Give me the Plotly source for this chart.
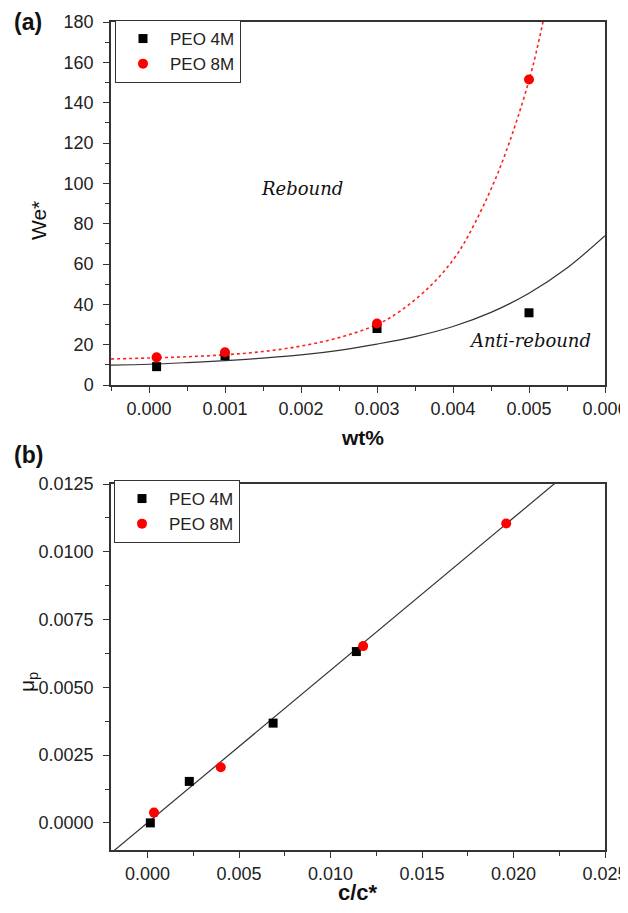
import plotly.graph_objects as go

# ---- Panel (a) data ----
wt_4m = [0.0001, 0.001, 0.003, 0.005]
we_4m = [9.1, 14.6, 28.0, 35.8]
wt_8m = [0.0001, 0.001, 0.003, 0.005]
we_8m = [13.7, 16.2, 30.5, 151.5]

# curves
fit4_x = [-0.0005, 0, 0.0005, 0.001, 0.0015, 0.002, 0.0025, 0.003, 0.0035, 0.004, 0.0045, 0.005, 0.0055, 0.006]
fit4_y = [9.9, 10.3, 11.1, 12.1, 13.3, 14.9, 17.2, 20.3, 24.0, 29.0, 36.0, 45.5, 58.0, 74.0]
fit8_x = [-0.0005, 0, 0.0005, 0.001, 0.0015, 0.002, 0.0025, 0.003, 0.0033, 0.0037, 0.004, 0.0042, 0.0046, 0.005, 0.0052]
fit8_y = [12.9, 13.4, 14.0, 15.0, 16.6, 19.3, 23.5, 30.0, 36.5, 49.0, 62.0, 74.0, 106.0, 151.0, 183.0]

# ---- Panel (b) data ----
cc_4m = [0.00015, 0.00228, 0.00686, 0.01141]
mu_4m = [0.0000, 0.00153, 0.00368, 0.00632]
cc_8m = [0.00035, 0.0040, 0.01178, 0.0196]
mu_8m = [0.00038, 0.00205, 0.00652, 0.01104]
line_x = [-0.0022, 0.0230]
line_y = [-0.00123, 0.01294]

FONT = "Liberation Sans, Arial, sans-serif"
AX = "#333333"

fig = go.Figure()

# Panel (a)
fig.add_trace(go.Scatter(x=fit4_x, y=fit4_y, mode="lines", line=dict(color="#333333", width=1.2, shape="spline"),
                         showlegend=False, xaxis="x", yaxis="y"))
fig.add_trace(go.Scatter(x=fit8_x, y=fit8_y, mode="lines", line=dict(color="#ff2020", width=1.6, dash="dot", shape="spline"),
                         showlegend=False, xaxis="x", yaxis="y"))
fig.add_trace(go.Scatter(x=wt_4m, y=we_4m, mode="markers", name="PEO 4M",
                         marker=dict(symbol="square", size=9, color="black"), xaxis="x", yaxis="y", legend="legend"))
fig.add_trace(go.Scatter(x=wt_8m, y=we_8m, mode="markers", name="PEO 8M",
                         marker=dict(symbol="circle", size=10, color="#ff0000"), xaxis="x", yaxis="y", legend="legend"))

# Panel (b)
fig.add_trace(go.Scatter(x=line_x, y=line_y, mode="lines", line=dict(color="#333333", width=1.2),
                         showlegend=False, xaxis="x2", yaxis="y2"))
fig.add_trace(go.Scatter(x=cc_4m, y=mu_4m, mode="markers", name="PEO 4M",
                         marker=dict(symbol="square", size=9, color="black"), xaxis="x2", yaxis="y2", legend="legend2"))
fig.add_trace(go.Scatter(x=cc_8m, y=mu_8m, mode="markers", name="PEO 8M",
                         marker=dict(symbol="circle", size=10, color="#ff0000"), xaxis="x2", yaxis="y2", legend="legend2"))

# page body has an 8px margin: size the figure to fit the window and map page pixels to paper
OFF = 8
W, H = 628 - OFF, 913 - OFF

def px(xp):
    return (xp - OFF) / W

def py(yp):
    return 1 - (yp - OFF) / H

xd = [px(111), px(605)]
yd_a = [py(385), py(22)]
yd_b = [py(850), py(484)]

def axis(**kw):
    base = dict(showline=True, linecolor=AX, linewidth=1.5, mirror=True, ticks="outside",
                ticklen=6, tickwidth=1.2, tickcolor=AX, showgrid=False, zeroline=False,
                automargin=False, tickfont=dict(family=FONT, size=18, color="#222"))
    base.update(kw)
    return base

def ann_text(text, x, y, size, angle=0):
    return dict(text=text, x=px(x), y=py(y), xref="paper", yref="paper", xanchor="center",
                yanchor="middle", showarrow=False, textangle=angle,
                font=dict(family=FONT, size=size, color="#111"))

fig.update_layout(
    width=W, height=H, margin=dict(l=0, r=0, t=0, b=0),
    paper_bgcolor="white", plot_bgcolor="white",
    xaxis=axis(domain=xd, anchor="y", range=[-0.0005, 0.006], dtick=0.001, tick0=0, tickformat=".3f",
               ticklabelstandoff=1,
               minor=dict(ticks="outside", ticklen=4, dtick=0.0005, tick0=0, tickcolor=AX)),
    yaxis=axis(domain=yd_a, anchor="x", range=[0, 180], dtick=20, ticklabelstandoff=6,
               minor=dict(ticks="outside", ticklen=4, dtick=10, tickcolor=AX)),
    xaxis2=axis(domain=xd, anchor="y2", range=[-0.002, 0.025], dtick=0.005, tick0=0, tickformat=".3f",
                ticklabelstandoff=1,
                minor=dict(ticks="outside", ticklen=4, dtick=0.0025, tick0=0, tickcolor=AX)),
    yaxis2=axis(domain=yd_b, anchor="x2", range=[-0.001, 0.0125], dtick=0.0025, tick0=0, tickformat=".4f",
                ticklabelstandoff=6,
                minor=dict(ticks="outside", ticklen=4, dtick=0.00125, tick0=0, tickcolor=AX)),
    legend=dict(x=px(115), y=py(20), xanchor="left", yanchor="top", bgcolor="white",
                bordercolor=AX, borderwidth=1, font=dict(family=FONT, size=17, color="#222"),
                tracegroupgap=0, itemwidth=44),
    legend2=dict(x=px(114), y=py(480), xanchor="left", yanchor="top", bgcolor="white",
                 bordercolor=AX, borderwidth=1, font=dict(family=FONT, size=17, color="#222"),
                 tracegroupgap=0, itemwidth=44),
    annotations=[
        dict(text="<b>(a)</b>", x=px(12), y=py(22), xref="paper", yref="paper", xanchor="left",
             yanchor="middle", showarrow=False, font=dict(family=FONT, size=23, color="#111")),
        dict(text="<b>(b)</b>", x=px(12), y=py(455), xref="paper", yref="paper", xanchor="left",
             yanchor="middle", showarrow=False, font=dict(family=FONT, size=23, color="#111")),
        ann_text("<b>wt%</b>", 362, 437, 21),
        ann_text("<b>c/c*</b>", 358, 892, 22),
        ann_text("We*", 38, 221, 21, angle=-90),
        ann_text("μ<sub>p</sub>", 28, 682, 21, angle=-90),
        dict(text="<i>Rebound</i>", x=0.00201, y=97.6, xref="x", yref="y", showarrow=False,
             font=dict(family="DejaVu Serif, serif", size=18, color="#111")),
        dict(text="<i>Anti-rebound</i>", x=0.00501, y=22, xref="x", yref="y", showarrow=False,
             font=dict(family="DejaVu Serif, serif", size=18, color="#111")),
    ],
)

fig.write_html("out.html")
